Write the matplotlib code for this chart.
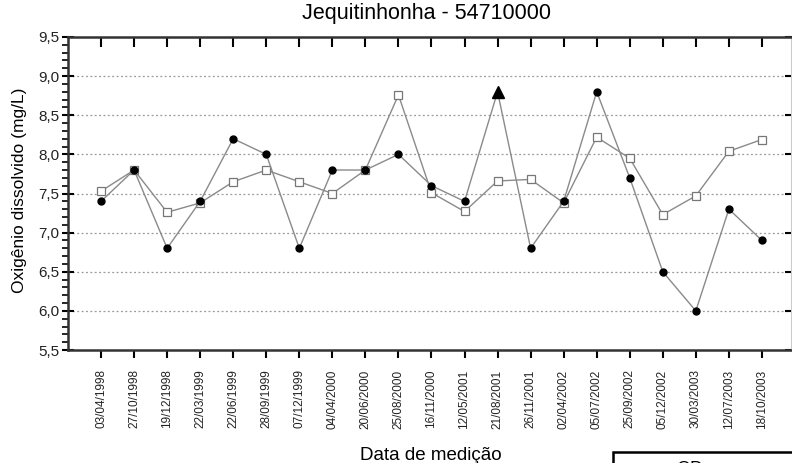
import numpy as np
import matplotlib
matplotlib.use("Agg")
import matplotlib.pyplot as plt
from matplotlib.patches import Rectangle
from matplotlib.ticker import MultipleLocator

plt.rcParams['font.family'] = ['Liberation Sans', 'DejaVu Sans']

# ===== DATA =====
datas = ["03/04/1998", "27/10/1998", "19/12/1998", "22/03/1999", "22/06/1999",
         "28/09/1999", "07/12/1999", "04/04/2000", "20/06/2000", "25/08/2000",
         "16/11/2000", "12/05/2001", "21/08/2001", "26/11/2001", "02/04/2002",
         "05/07/2002", "25/09/2002", "05/12/2002", "30/03/2003", "12/07/2003",
         "18/10/2003"]
od_medido = [7.4, 7.8, 6.8, 7.4, 8.2, 8.0, 6.8, 7.8, 7.8, 8.0, 7.6, 7.4,
             8.8, 6.8, 7.4, 8.8, 7.7, 6.5, 6.0, 7.3, 6.9]
od_modelo = [7.53, 7.8, 7.26, 7.38, 7.65, 7.8, 7.65, 7.5, 7.8, 8.76, 7.51, 7.27,
             7.66, 7.68, 7.38, 8.22, 7.95, 7.23, 7.47, 8.04, 8.19]
idx_triangulo = [12]

x = np.arange(len(datas))

fig = plt.figure(figsize=(7.92, 4.63), dpi=100)
ax = fig.add_axes([68 / 792, 1 - 350 / 463, (791 - 68) / 792, (350 - 37) / 463])

line_c = '#8a8a8a'
ax.plot(x, od_modelo, color=line_c, lw=1.0, marker='s', ms=6,
        mfc='white', mec='#777777', mew=0.9, zorder=3)

circ = [i for i in range(len(x)) if i not in idx_triangulo]
ax.plot(x, od_medido, color=line_c, lw=1.0, zorder=3)
ax.plot(x[circ], np.array(od_medido)[circ], ls='none', marker='o', ms=5,
        color='black', zorder=4)
ax.plot(x[idx_triangulo], np.array(od_medido)[idx_triangulo], ls='none',
        marker='^', ms=8, color='black', zorder=4)

ax.set_xlim(-1, 20.88)
ax.set_ylim(5.5, 9.5)

for yv in np.arange(6.0, 9.01, 0.5):
    ax.axhline(yv, color='#999999', lw=0.9, ls=(0, (1.5, 2)), zorder=1)

ax.yaxis.set_major_locator(MultipleLocator(0.5))
ax.yaxis.set_minor_locator(MultipleLocator(0.1))
ax.set_yticklabels([f"{v:.1f}".replace('.', ',') for v in ax.get_yticks()])
ax.tick_params(axis='y', which='major', direction='inout', length=8, width=1.5,
               labelsize=11, right=True, pad=2, labelcolor='#222222')
ax.tick_params(axis='y', which='minor', direction='out', length=4, width=1.2,
               right=True)

ax.set_xticks(x)
ax.set_xticklabels(datas, rotation=90, fontsize=8.5, color='#222222')
ax.tick_params(axis='x', which='major', direction='out', length=6, width=1.5,
               pad=8)
ax.tick_params(axis='x', which='major', top=True)
for t in ax.xaxis.get_major_ticks():
    t.tick2line.set_marker(3)
    t.tick2line.set_markersize(7)

for s in ['left', 'bottom', 'top']:
    ax.spines[s].set_linewidth(1.8)
    ax.spines[s].set_color('#333333')
ax.spines['right'].set_linewidth(0.8)
ax.spines['right'].set_color('#cccccc')

fig.text(426 / 792, 1 - 13 / 463, "Jequitinhonha - 54710000", fontsize=15.5,
         ha='center', va='center')
fig.text(20 / 792, 1 - 190 / 463, "Oxigênio dissolvido (mg/L)", fontsize=12.5,
         rotation=90, ha='center', va='center')
fig.text(431 / 792, 1 - 455 / 463, "Data de medição", fontsize=13.5,
         ha='center', va='center')

# caixa da legenda cortada no canto inferior
fig.patches.append(Rectangle((613 / 792, -0.1), 0.3, 0.1 + (463 - 452) / 463,
                             transform=fig.transFigure, fill=False,
                             lw=1.8, ec='black'))
fig.text(690 / 792, 1 - 470 / 463, "OD", fontsize=13, ha='center', va='center')

fig.savefig("out.png", dpi=100)
